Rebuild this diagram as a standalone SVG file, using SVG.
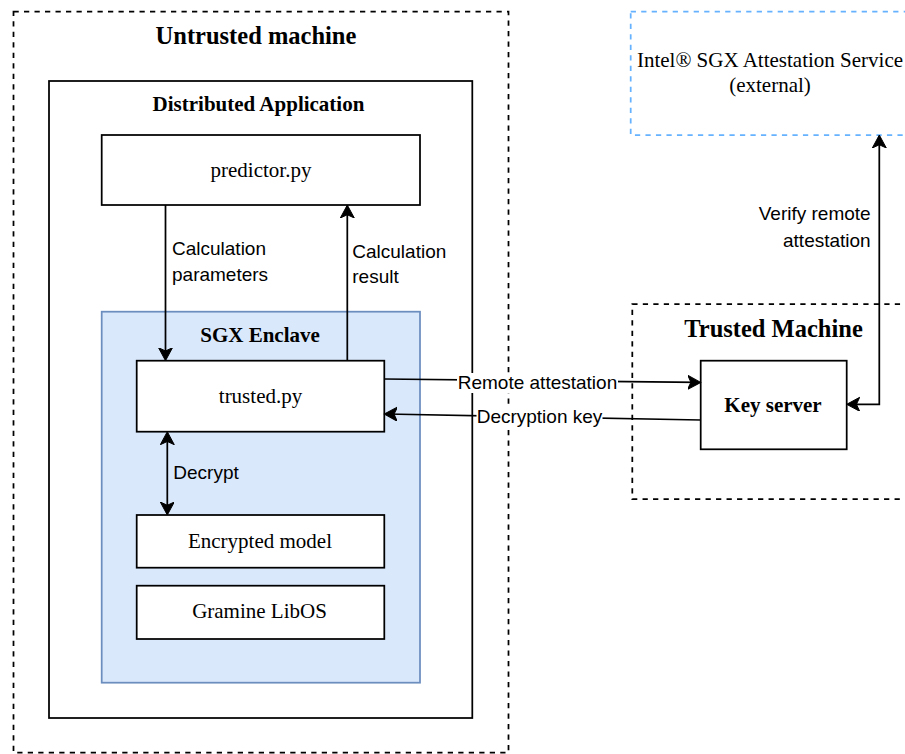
<svg xmlns="http://www.w3.org/2000/svg" width="905" height="754" viewBox="0 0 905 754">
<style>
.box{fill:#ffffff;stroke:#000000;stroke-width:1.75}
.dash{fill:none;stroke:#000000;stroke-width:1.75;stroke-dasharray:5.25 5.25}
.bluedash{fill:none;stroke:#66b2ff;stroke-width:1.75;stroke-dasharray:5.25 5.25}
.enclave{fill:#dae8fc;stroke:#6c8ebf;stroke-width:1.75}
.serif{font-family:"Liberation Serif","Times New Roman",serif;font-size:21px;fill:#000000;text-anchor:middle}
.bold{font-weight:bold}
.big{font-size:24.5px}
.sans{font-family:"Liberation Sans",Arial,Helvetica,sans-serif;font-size:19px;fill:#000000}
.edge{fill:none;stroke:#000000;stroke-width:1.75}
.lblbg{fill:#ffffff}
</style>
<defs>
<marker id="arr" markerUnits="userSpaceOnUse" markerWidth="14" markerHeight="15" refX="11" refY="7" orient="auto-start-reverse" viewBox="0 0 14 15">
<path d="M13,7 L0,0 L3.25,7 L0,14 Z" fill="#000000" stroke="#000000" stroke-width="1"/>
</marker>
</defs>

<g id="untrusted-machine">
<rect class="dash" x="13.5" y="11.5" width="495" height="741"/>
<text class="serif bold big" x="256" y="44">Untrusted machine</text>
</g>

<g id="distributed-application">
<rect class="box" x="49" y="81" width="423.3" height="637"/>
<text class="serif bold" x="258.5" y="111">Distributed Application</text>
</g>

<g id="predictor">
<rect class="box" x="101.7" y="135" width="318.3" height="70"/>
<text class="serif" x="261" y="176.5">predictor.py</text>
</g>

<g id="sgx-enclave">
<rect class="enclave" x="101.7" y="311.7" width="318.3" height="371"/>
<text class="serif bold" x="260" y="342">SGX Enclave</text>
</g>

<g id="trusted-py">
<rect class="box" x="136.7" y="360.7" width="247.6" height="71"/>
<text class="serif" x="260.5" y="402.5">trusted.py</text>
</g>

<g id="encrypted-model">
<rect class="box" x="136.7" y="515" width="247.6" height="52.7"/>
<text class="serif" x="260" y="548">Encrypted model</text>
</g>

<g id="gramine-libos">
<rect class="box" x="136.7" y="585.7" width="247.6" height="53.3"/>
<text class="serif" x="259.5" y="618">Gramine LibOS</text>
</g>

<g id="intel-sgx-attestation-service">
<rect class="bluedash" x="630.7" y="11.5" width="279" height="123.5"/>
<text class="serif" x="770" y="66.5">Intel® SGX Attestation Service</text>
<text class="serif" x="770" y="91.5">(external)</text>
</g>

<g id="trusted-machine">
<rect class="dash" x="632.3" y="304" width="283" height="195"/>
<text class="serif bold big" x="773.5" y="336.5">Trusted Machine</text>
</g>

<g id="key-server">
<rect class="box" x="700.7" y="360.7" width="146" height="88.6"/>
<text class="serif bold" x="773" y="412">Key server</text>
</g>

<g id="connectors">
<path class="edge" d="M165.5,205 L165.5,358.7" marker-end="url(#arr)"/>
<text class="sans" x="172" y="254.5">Calculation</text>
<text class="sans" x="172" y="280.5">parameters</text>

<path class="edge" d="M347.3,360.7 L347.3,207" marker-end="url(#arr)"/>
<text class="sans" x="352.3" y="258.3">Calculation</text>
<text class="sans" x="352.3" y="283.3">result</text>

<path class="edge" d="M167.3,433.7 L167.3,513" marker-start="url(#arr)" marker-end="url(#arr)"/>
<text class="sans" x="173.3" y="479">Decrypt</text>

<path class="edge" d="M384.3,379 L698.7,382.4" marker-end="url(#arr)"/>
<rect class="lblbg" x="457" y="373" width="161" height="20"/>
<text class="sans" x="537.5" y="389" text-anchor="middle">Remote attestation</text>

<path class="edge" d="M700.7,420 L386.3,414" marker-end="url(#arr)"/>
<rect class="lblbg" x="476.5" y="407" width="126" height="20"/>
<text class="sans" x="539.5" y="423.3" text-anchor="middle">Decryption key</text>

<path class="edge" d="M848.7,404.3 L879.3,404.3 L879.3,137" marker-start="url(#arr)" marker-end="url(#arr)"/>
<text class="sans" x="870.7" y="220" text-anchor="end">Verify remote</text>
<text class="sans" x="870.7" y="246.5" text-anchor="end">attestation</text>
</g>
</svg>
